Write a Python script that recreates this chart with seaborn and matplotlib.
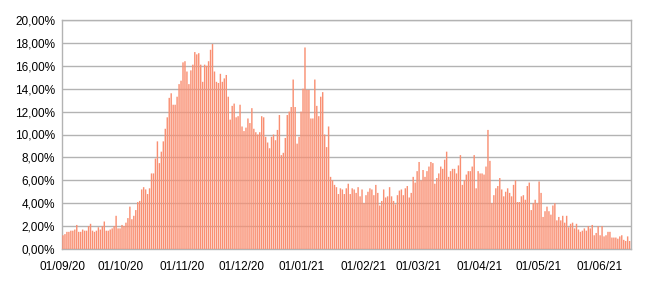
import matplotlib
matplotlib.use("Agg")
import matplotlib.pyplot as plt
import seaborn as sns
import pandas as pd
import numpy as np

# ---- data (daily percentages) ----
sep_2020 = [1.2, 1.3, 1.5, 1.5, 1.6, 1.6, 1.7, 2.1, 1.5, 1.5, 1.7, 1.6, 1.6, 2.0, 2.2,
            1.6, 1.5, 1.6, 1.9, 1.7, 2.0, 2.4, 1.6, 1.6, 1.7, 1.8, 2.0, 2.9, 1.8, 1.8]
oct_2020 = [2.1, 2.0, 2.3, 2.7, 3.7, 2.6, 2.9, 3.4, 4.1, 4.2, 5.2, 5.4, 5.2, 4.8, 5.3,
            6.6, 6.6, 7.9, 9.4, 7.5, 8.5, 9.4, 10.5, 11.5, 13.2, 13.6, 12.6, 12.6, 13.3, 14.4, 14.7]
nov_2020 = [16.3, 16.4, 15.5, 14.4, 15.6, 16.1, 17.2, 17.0, 17.1, 16.1, 14.6, 16.1, 16.0, 16.4, 17.4,
            17.9, 15.5, 14.6, 14.5, 15.3, 14.6, 14.9, 15.2, 13.3, 11.3, 12.5, 12.7, 11.5, 11.6, 12.6]
dec_2020 = [10.7, 10.3, 10.6, 11.4, 11.0, 12.3, 10.5, 10.2, 10.0, 10.2, 11.6, 11.5, 9.8, 9.3, 8.8,
            9.8, 10.0, 9.5, 10.4, 11.7, 8.2, 8.4, 9.7, 11.7, 12.0, 12.4, 14.8, 12.4, 9.2, 9.8, 12.0]
jan_2021 = [14.0, 17.6, 13.9, 13.9, 11.4, 11.4, 14.8, 12.5, 11.6, 13.3, 13.7, 10.0, 8.9, 10.7, 6.3,
            6.0, 5.6, 5.4, 4.8, 5.3, 5.2, 4.8, 5.3, 5.7, 4.8, 5.3, 5.2, 4.9, 5.4, 4.6, 5.2]
feb_2021 = [4.0, 4.7, 5.0, 5.3, 5.2, 4.7, 5.6, 4.9, 3.8, 4.2, 5.2, 4.5, 4.6, 5.4, 4.6,
            4.2, 3.9, 4.7, 5.1, 5.2, 4.7, 5.3, 5.5, 4.5, 4.9, 6.3, 5.8, 6.8]
mar_2021 = [7.6, 6.0, 6.9, 6.3, 6.8, 7.2, 7.6, 7.5, 5.7, 6.2, 6.6, 7.2, 7.0, 7.8, 8.5,
            6.3, 6.8, 7.0, 7.0, 6.6, 7.3, 8.2, 5.6, 6.0, 6.5, 6.8, 6.8, 7.2, 8.2, 5.3, 6.8]
apr_2021 = [6.6, 6.6, 6.5, 7.2, 10.4, 7.7, 4.0, 4.7, 5.3, 5.5, 6.2, 5.2, 4.6, 5.0, 5.3,
            4.9, 4.6, 5.6, 6.0, 4.1, 4.1, 4.6, 4.7, 4.3, 5.5, 5.8, 3.4, 4.0, 4.3, 4.0]
may_2021 = [5.9, 4.9, 2.8, 3.3, 3.7, 3.3, 3.0, 3.8, 4.0, 2.5, 2.8, 2.5, 2.9, 2.3, 2.9,
            1.9, 2.2, 2.3, 1.8, 2.2, 1.7, 1.5, 1.6, 1.8, 1.6, 2.0, 1.8, 2.1, 1.2, 1.4, 2.0]
jun_2021 = [1.2, 2.0, 1.1, 1.2, 1.5, 1.5, 1.0, 1.0, 1.0, 0.9, 1.1, 1.2, 0.8, 0.7, 1.1, 0.7]

months = [sep_2020, oct_2020, nov_2020, dec_2020, jan_2021, feb_2021,
          mar_2021, apr_2021, may_2021, jun_2021]
month_labels = ["01/09/20", "01/10/20", "01/11/20", "01/12/20", "01/01/21",
                "01/02/21", "01/03/21", "01/04/21", "01/05/21", "01/06/21"]
y_ticks = [0, 2, 4, 6, 8, 10, 12, 14, 16, 18, 20]

values = [v for m in months for v in m]
dates = pd.date_range("2020-09-01", periods=len(values), freq="D").strftime("%d/%m/%y")
df = pd.DataFrame({"date": dates, "value": values})

month_starts = np.cumsum([0] + [len(m) for m in months[:-1]])

# ---- plotting ----
sns.set_style("white")
plt.rcParams["font.family"] = ["Liberation Sans", "DejaVu Sans"]

fig = plt.figure(figsize=(6.5, 2.83), dpi=100)
ax = fig.add_axes([62 / 650, 1 - 249 / 283, (631 - 62) / 650, (249 - 20) / 283])

sns.barplot(data=df, x="date", y="value", color="#f98f72", saturation=1,
            width=0.72, linewidth=0, ax=ax, zorder=3)
for p in ax.patches:
    p.set_snap(False)

grid_c = "#b3b3b3"
ax.set_ylim(0, 20)
ax.set_xlim(-0.5, len(values) - 0.3)
ax.set_yticks(y_ticks)
ax.set_yticklabels([f"{v:.2f}".replace(".", ",") + "%" for v in y_ticks], fontsize=8.5)
ax.set_xticks(month_starts - 0.5)
ax.set_xticklabels(month_labels, fontsize=8.5)
ax.set_xlabel("")
ax.set_ylabel("")
ax.yaxis.grid(True, color=grid_c, linewidth=1.0, zorder=0)
ax.xaxis.grid(False)
ax.set_axisbelow(True)
for s in ax.spines.values():
    s.set_color(grid_c)
    s.set_linewidth(1.0)
ax.tick_params(axis="y", length=3, color=grid_c, width=1.0, pad=2, labelcolor="#000000")
ax.tick_params(axis="x", length=3, color=grid_c, width=1.0, pad=6, labelcolor="#000000")

fig.savefig("out.png", dpi=100)
